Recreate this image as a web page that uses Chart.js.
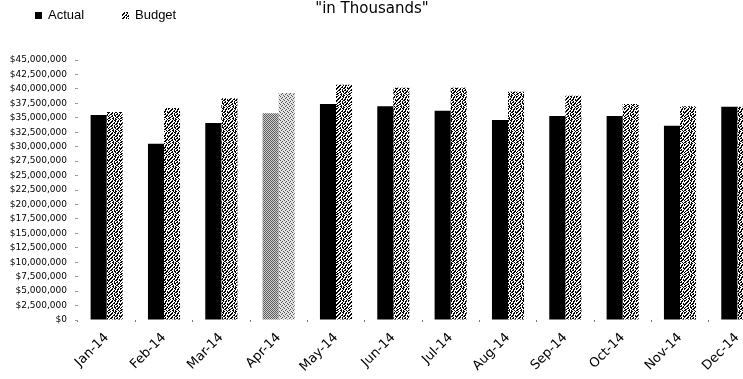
<!DOCTYPE html>
<html>
<head>
<meta charset="utf-8">
<title>Actual vs Budget</title>
<script src="https://cdn.jsdelivr.net/npm/chart.js@4/dist/chart.umd.min.js"></script>
<style>
  html, body { margin: 0; padding: 0; background: #fff; overflow: hidden; }
  canvas { display: block; }
</style>
</head>
<body>
<canvas id="chart" width="766" height="379"></canvas>
<script>
// Monthly figures, in dollars
const months = ['Jan-14', 'Feb-14', 'Mar-14', 'Apr-14', 'May-14', 'Jun-14',
                'Jul-14', 'Aug-14', 'Sep-14', 'Oct-14', 'Nov-14', 'Dec-14'];
const actual = [35500000, 30500000, 34100000, 35800000, 37400000, 37000000,
                36200000, 34600000, 35300000, 35300000, 33600000, 36900000];
const budget = [36000000, 36700000, 38400000, 39300000, 40700000, 40200000,
                40200000, 39500000, 38800000, 37400000, 37000000, 36900000];
const seriesNames = ['Actual', 'Budget'];
const yMax = 45000000;
const yStep = 2500000;
const highlightMonth = 'Apr-14';
const titleText = '"in Thousands"';

// Bitmap fills: '#' = ink pixel, '.' = paper pixel
function tilePattern(rows, ink, paper) {
  const c = document.createElement('canvas');
  c.width = rows[0].length;
  c.height = rows.length;
  const g = c.getContext('2d');
  g.fillStyle = paper;
  g.fillRect(0, 0, c.width, c.height);
  g.fillStyle = ink;
  rows.forEach((r, y) => {
    for (let x = 0; x < r.length; x++) if (r[x] === '#') g.fillRect(x, y, 1, 1);
  });
  return document.getElementById('chart').getContext('2d').createPattern(c, 'repeat');
}

// coarse black-and-white stipple used for the budget columns
const budgetFill = tilePattern([
  '##..#.##..#.',
  '#..##..#.##.',
  '..##..#..#..',
  '.##..##.##.#',
  '##..#..##..#',
  '#..##.#..#..',
  '..##..#.##.#',
  '.#..#.##..##',
  '#..##..#.##.',
  '.##..#..##..',
  '##..##.#..#.',
  '..#..#.##..#'
], '#000', '#fff');
const highlightActualFill = tilePattern([
  '#.#.',
  '.#.#',
  '#.#.',
  '.#.#'
], '#5e5e5e', '#cfcfcf');
const highlightBudgetFill = tilePattern([
  '#...',
  '..#.',
  '.#..',
  '...#'
], '#555', '#e2e2e2');

const actualColors = months.map(m => m === highlightMonth ? highlightActualFill : '#000');
const budgetColors = months.map(m => m === highlightMonth ? highlightBudgetFill : budgetFill);
const legendFills = ['#000', budgetFill];

// Title line and legend row across the top of the canvas
const headerPlugin = {
  id: 'header',
  afterDraw(chart) {
    const ctx = chart.ctx;
    ctx.save();
    ctx.fillStyle = '#000';
    ctx.textBaseline = 'middle';
    ctx.font = '15px "DejaVu Sans"';
    ctx.textAlign = 'center';
    ctx.fillText(titleText, 372, 9);

    ctx.font = '13px "Liberation Sans"';
    ctx.textAlign = 'left';
    const itemX = [35, 122];
    chart.data.datasets.forEach((ds, i) => {
      ctx.fillStyle = legendFills[i];
      ctx.fillRect(itemX[i], 12, 7, 7);
      ctx.fillStyle = '#000';
      ctx.fillText(ds.label, itemX[i] + 13, 15.5);
    });
    ctx.restore();
  }
};

new Chart(document.getElementById('chart'), {
  type: 'bar',
  data: {
    labels: months,
    datasets: [
      {
        label: seriesNames[0],
        data: actual,
        backgroundColor: actualColors,
        borderWidth: 0,
        categoryPercentage: 0.56,
        barPercentage: 1.0
      },
      {
        label: seriesNames[1],
        data: budget,
        backgroundColor: budgetColors,
        borderWidth: 0,
        categoryPercentage: 0.56,
        barPercentage: 1.0
      }
    ]
  },
  options: {
    responsive: false,
    devicePixelRatio: 1,
    animation: false,
    layout: { padding: { top: 60, left: 0, right: 0, bottom: 0 } },
    plugins: {
      legend: { display: false },
      title: { display: false },
      tooltip: { enabled: false }
    },
    scales: {
      x: {
        offset: true,
        border: { display: false },
        grid: {
          offset: true,
          drawOnChartArea: false,
          drawTicks: true,
          tickLength: 2,
          color: '#777'
        },
        ticks: {
          autoSkip: false,
          minRotation: 45,
          maxRotation: 45,
          padding: 8,
          color: '#000',
          font: { family: 'DejaVu Sans', size: 13 }
        },
        afterFit(scale) { scale.height = 59; }
      },
      y: {
        min: 0,
        max: yMax,
        border: { display: false },
        grid: {
          drawOnChartArea: false,
          drawTicks: true,
          tickLength: 3,
          color: '#999'
        },
        ticks: {
          stepSize: yStep,
          padding: 8,
          color: '#000',
          font: { family: 'DejaVu Sans', size: 9 },
          callback: v => '$' + Number(v).toLocaleString('en-US')
        },
        afterFit(scale) { scale.width = 78; }
      }
    }
  },
  plugins: [headerPlugin]
});
</script>
</body>
</html>
